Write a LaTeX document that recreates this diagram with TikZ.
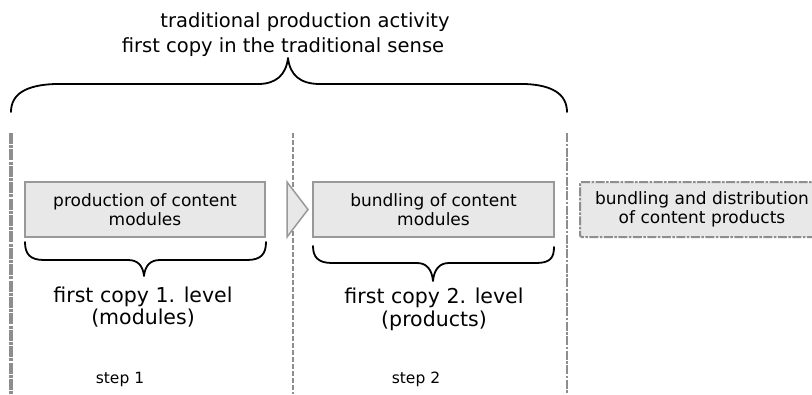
\documentclass[tikz,border=0pt]{standalone}
\usepackage{fontspec}
\setmainfont{DejaVu Sans}
\definecolor{boxfill}{HTML}{E8E8E8}
\definecolor{boxline}{HTML}{999999}
\definecolor{sepline}{HTML}{8E8E8E}
\begin{document}
\begin{tikzpicture}[x=1pt,y=-1pt,
  procbox/.style={draw=boxline,fill=boxfill,line width=1.5pt,minimum height=55pt,
    inner sep=0pt,align=center,font=\fontsize{17}{19}\selectfont},
  outbox/.style={procbox,draw=sepline,line width=2pt,rounded corners=2pt,
    dash pattern=on 9pt off 1.5pt on 2.5pt off 1.5pt},
  chevron/.style={draw=boxline,fill=boxfill,line width=1.5pt,line join=miter},
  bracepath/.style={draw=black,line width=1.8pt,line join=round,line cap=round},
  sepmain/.style={draw=sepline,line width=3.5pt,dash pattern=on 11pt off 1.2pt on 3pt off 1.2pt},
  sepmid/.style={draw=sepline,line width=1.4pt,dash pattern=on 5pt off 2pt},
  sepend/.style={draw=sepline,line width=2pt,dash pattern=on 9pt off 1.5pt on 2.5pt off 1.5pt},
  toptext/.style={anchor=base,inner sep=0pt,font=\fontsize{19.5}{23}\selectfont},
  leveltext/.style={inner sep=0pt,align=center,font=\fontsize{20.5}{22.5}\selectfont},
  steptext/.style={anchor=base,inner sep=0pt,font=\fontsize{15.5}{18}\selectfont}]
\useasboundingbox (0,0) rectangle (812,394);

% stage separators
\coordinate (s1top) at (11,133);   \coordinate (s1bot) at (11,394);
\coordinate (s2top) at (293,133);  \coordinate (s2bot) at (293,394);
\coordinate (s3top) at (567,133);  \coordinate (s3bot) at (567,394);
\draw[sepmain] (s1top) -- (s1bot);
\draw[sepmid]  (s2top) -- (s2bot);
\draw[sepend]  (s3top) -- (s3bot);

% headline
\node[toptext] (head1) at (305,27) {traditional production activity};
\node[toptext] (head2) at (283,52) {first copy in the traditional sense};

% brace spanning both steps
\draw[bracepath] (11,112) .. controls (11,94) and (26,85) .. (55,84) -- (258,84)
  .. controls (276,84) and (286,75) .. (288,58)
  .. controls (290,75) and (300,84) .. (320,84) -- (525,84)
  .. controls (552,85) and (567,94) .. (567,112);

% process boxes
\node[procbox,minimum width=240pt] (mod) at (145,209.5) {production of content\\modules};
\node[procbox,minimum width=241pt] (bun) at (433.5,209.5) {bundling of content\\modules};
\node[outbox,minimum width=244pt] (dist) at (702,209.5) {bundling and distribution\\of content products};

% step arrow between the boxes
\coordinate (chA) at (287,182);
\coordinate (chB) at (308,209.5);
\coordinate (chC) at (287,237);
\draw[chevron] (chA) -- (chB) -- (chC) -- cycle;

% braces under the boxes
\draw[bracepath] (25,242) .. controls (25,254) and (30,260) .. (44,260) -- (128,260)
  .. controls (138,260) and (143,266) .. (144,276)
  .. controls (145,266) and (150,260) .. (160,260) -- (247,260)
  .. controls (261,260) and (266,254) .. (266,242);
\draw[bracepath] (313,246) .. controls (313,257) and (318,263) .. (332,263) -- (417,263)
  .. controls (427,263) and (432,270) .. (433,281)
  .. controls (434,270) and (439,263) .. (449,263) -- (536,263)
  .. controls (550,263) and (554,258) .. (554,247);

% level labels
\node[leveltext] (lev1) at (143,307) {first copy 1. level\\(modules)};
\node[leveltext] (lev2) at (434,309.5) {first copy 2. level\\(products)};

% step labels
\node[steptext] (step1) at (120,383) {step 1};
\node[steptext] (step2) at (416,383) {step 2};
\end{tikzpicture}
\end{document}
